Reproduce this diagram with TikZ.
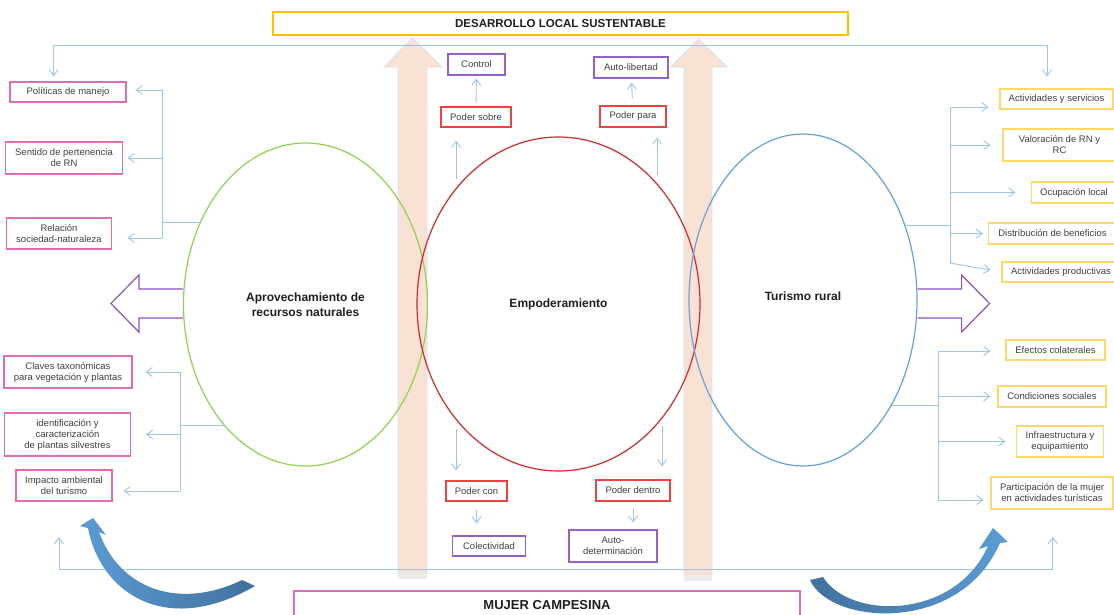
\documentclass[tikz,border=0pt]{standalone}
\usepackage{fontspec}
\setmainfont{Liberation Sans}
\usetikzlibrary{shapes.geometric, arrows.meta}
\definecolor{pinkline}{RGB}{224,108,184}
\definecolor{goldline}{RGB}{255,217,102}
\definecolor{topgold}{RGB}{255,192,0}
\definecolor{redline}{RGB}{240,64,64}
\definecolor{boxviolet}{RGB}{150,96,200}
\definecolor{connblue}{RGB}{157,195,230}
\definecolor{leafgreen}{RGB}{146,208,80}
\definecolor{empred}{RGB}{210,40,45}
\definecolor{turblue}{RGB}{100,160,220}
\definecolor{arrowviolet}{RGB}{140,80,190}
\definecolor{peach}{RGB}{249,226,212}
\definecolor{peachline}{RGB}{214,224,236}
\definecolor{curvedark}{RGB}{65,113,156}
\definecolor{curvelight}{RGB}{91,155,213}
\definecolor{txt}{RGB}{64,64,64}
\definecolor{titletxt}{RGB}{30,30,30}
\tikzstyle{pinkbox} = [rectangle, draw=pinkline, line width=1.2pt, align=center, text=txt, font=\fontsize{9.5}{11}\selectfont, inner sep=0pt]
\tikzstyle{goldbox} = [rectangle, draw=goldline, line width=1.2pt, align=center, text=txt, font=\fontsize{9.5}{11}\selectfont, inner sep=0pt]
\tikzstyle{redbox} = [rectangle, draw=redline, line width=1.2pt, align=center, text=txt, font=\fontsize{9.5}{11}\selectfont, inner sep=0pt]
\tikzstyle{violetbox} = [rectangle, draw=boxviolet, line width=1.2pt, align=center, text=txt, font=\fontsize{9.5}{11}\selectfont, inner sep=0pt]
\tikzstyle{titlebox} = [rectangle, line width=1.2pt, text=titletxt, inner sep=0pt]
\tikzstyle{bigellipse} = [ellipse, line width=1.2pt, align=center, text=titletxt, font=\bfseries\fontsize{12}{14.5}\selectfont, inner sep=0pt]
\tikzstyle{conn} = [draw=connblue, line width=0.9pt]
\tikzstyle{arrow} = [conn, ->, >={Straight Barb[length=6pt,width=9pt]}]
\tikzstyle{bigarrow} = [fill=peach, draw=peachline, line width=0.8pt]
\tikzstyle{fatarrow} = [draw=arrowviolet, line width=1.2pt, line join=miter]

\begin{document}
\begin{tikzpicture}[x=1pt, y=-1pt]
\useasboundingbox (0,0) rectangle (1114,614);

% the two wide arrows going up to the top box
\draw [bigarrow] (398,573) -- (398,67) -- (384,67) -- (412.5,38) -- (442,67) -- (427,67) -- (427,573) -- cycle;
\fill [gray!15] (398,573) rectangle (427,579);
\draw [bigarrow] (684,575) -- (684,67) -- (670.8,67) -- (698.6,39) -- (727,67) -- (712,67) -- (712,575) -- cycle;
\fill [gray!15] (684,575) rectangle (712,581);

\node (desarrollo) [titlebox, draw=topgold, minimum width=575pt, minimum height=23pt, font=\bfseries\fontsize{11.5}{13}\selectfont] at (560.5,23.5) {DESARROLLO LOCAL SUSTENTABLE};
\node (mujer) [titlebox, draw=pinkline, minimum width=506pt, minimum height=28pt, font=\bfseries\fontsize{13}{15}\selectfont] at (547,605) {MUJER CAMPESINA};

\node (aprov) [bigellipse, draw=leafgreen, minimum width=244pt, minimum height=323pt] at (305.5,304.5) {Aprovechamiento de\\recursos naturales};
\node (emp) [bigellipse, draw=empred, minimum width=283pt, minimum height=334pt] at (558.5,304) {Empoderamiento};
\node (tur) [bigellipse, draw=turblue, minimum width=228pt, minimum height=332pt] at (803,300) {\raisebox{7pt}{Turismo rural}};

% outline arrows on both sides
\draw [fatarrow] ([yshift=15.5pt]aprov.west) -- ++(-44,0) -- ++(0,-14) -- ++(-28,28.5) -- ++(28,28.5) -- ++(0,-14) -- ++(44,0);
\draw [fatarrow] ([yshift=11pt]tur.east) -- ++(44,0) -- ++(0,-14) -- ++(28,28.5) -- ++(-28,28.5) -- ++(0,-14) -- ++(-44,0);

% left boxes
\node (pol) [pinkbox, minimum width=116pt, minimum height=20pt] at (68,92) {Políticas de manejo};
\node (sent) [pinkbox, minimum width=117pt, minimum height=32pt] at (64,158) {Sentido de pertenencia\\de RN};
\node (rel) [pinkbox, minimum width=105pt, minimum height=31pt] at (59,233.5) {Relación\\sociedad-naturaleza};
\node (claves) [pinkbox, minimum width=128pt, minimum height=32pt] at (68,372) {Claves taxonómicas\\para vegetación y plantas};
\node (ident) [pinkbox, minimum width=126pt, minimum height=43pt] at (67.5,434.5) {identificación y\\caracterización\\de plantas silvestres};
\node (impacto) [pinkbox, minimum width=96pt, minimum height=31pt] at (64,485.5) {Impacto ambiental\\del turismo};

% right boxes
\node (actserv) [goldbox, minimum width=113pt, minimum height=20pt] at (1056.5,99) {Actividades y servicios};
\node (valor) [goldbox, minimum width=113pt, minimum height=32pt] at (1059.5,145) {Valoración de RN y\\RC};
\node (ocup) [goldbox, minimum width=85pt, minimum height=21pt] at (1074,192.5) {Ocupación local};
\node (distrib) [goldbox, minimum width=128pt, minimum height=21pt] at (1052.5,233.5) {Distribución de beneficios};
\node (actprod) [goldbox, minimum width=118pt, minimum height=20pt] at (1061,272) {Actividades productivas};
\node (efectos) [goldbox, minimum width=99pt, minimum height=20pt] at (1055.5,350) {Efectos colaterales};
\node (condic) [goldbox, minimum width=108pt, minimum height=21pt] at (1052,396.5) {Condiciones sociales};
\node (infra) [goldbox, minimum width=87pt, minimum height=31pt] at (1060,441.5) {Infraestructura y\\equipamiento};
\node (partic) [goldbox, minimum width=122pt, minimum height=32pt] at (1052,493) {Participación de la mujer\\en actividades turísticas};

% kinds of power
\node (control) [violetbox, minimum width=57pt, minimum height=21pt] at (476.5,64.5) {Control};
\node (podsobre) [redbox, minimum width=70pt, minimum height=20pt] at (476,117) {Poder sobre};
\node (autolib) [violetbox, minimum width=74pt, minimum height=21pt] at (631,67.5) {Auto-libertad};
\node (podpara) [redbox, minimum width=66pt, minimum height=21pt] at (633,116.5) {Poder para};
\node (podcon) [redbox, minimum width=61pt, minimum height=20pt] at (476.5,491) {Poder con};
\node (colect) [violetbox, minimum width=73pt, minimum height=20pt] at (489,546) {Colectividad};
\node (poddentro) [redbox, minimum width=74pt, minimum height=21pt] at (633,490.5) {Poder dentro};
\node (autodet) [violetbox, minimum width=88pt, minimum height=32pt] at (613,546) {Auto-\\determinación};

\coordinate (topL) at (53.6,45);
\coordinate (topR) at (1047,45);
\coordinate (botL) at (59,569);
\coordinate (botR) at (1052.6,569);
\coordinate (lu) at (162,90);
\coordinate (lub) at (162,238);
\coordinate (ll) at (180,372);
\coordinate (llb) at (180,491);
\coordinate (ru) at (950,107);
\coordinate (rub) at (950,263);
\coordinate (rl) at (938,351);
\coordinate (rlb) at (938,500);
\coordinate (es1) at (456,179);
\coordinate (es2) at (657,175);
\coordinate (es3) at (456,429);
\coordinate (es4) at (662,426);

\draw [arrow, <->, shorten <=5pt, shorten >=12pt] (pol.north -| topL) -- (topL) -- (topR) -- (actserv.north -| topR);
\draw [arrow, <->] ([yshift=32pt]botL) -- (botL) -- (botR) -- ([yshift=32pt]botR);

% left brackets
\draw [conn] (aprov.142) -- (aprov.142 -| lu);
\draw [conn] (lu) -- (lub);
\draw [arrow, shorten >=9pt] (lu) -- (lu -| pol.east);
\draw [arrow, shorten >=4.5pt] (lu |- sent.east) -- (sent.east);
\draw [arrow, shorten >=15.6pt] (lub) -- (lub -| rel.east);
\draw [conn] (aprov.236) -- (aprov.236 -| ll);
\draw [conn] (ll) -- (llb);
\draw [arrow, shorten >=13pt] (ll) -- (ll -| claves.east);
\draw [arrow, shorten >=15pt] (ll |- ident.east) -- (ident.east);
\draw [arrow, shorten >=11pt] (llb) -- (llb -| impacto.east);

% right brackets
\draw [conn] (tur.36) -- (tur.36 -| ru);
\draw [conn] (ru) -- (rub);
\draw [arrow, shorten >=11pt] (ru) -- (ru -| actserv.west);
\draw [arrow, shorten >=12pt] (ru |- valor.west) -- (valor.west);
\draw [arrow, shorten >=15.5pt] (ru |- ocup.west) -- (ocup.west);
\draw [arrow, shorten >=5pt] (ru |- distrib.west) -- (distrib.west);
\draw [arrow, shorten >=11pt] (rub) -- (actprod.west);
\draw [conn] (tur.310) -- (tur.310 -| rl);
\draw [conn] (rl) -- (rlb);
\draw [arrow, shorten >=15pt] (rl) -- (rl -| efectos.west);
\draw [arrow, shorten >=7pt] (rl |- condic.west) -- (condic.west);
\draw [arrow, shorten >=10.5pt] (rl |- infra.west) -- (infra.west);
\draw [arrow, shorten >=7pt] (rlb) -- (rlb -| partic.west);

% around Empoderamiento
\draw [arrow, shorten <=4pt, shorten >=3pt] (podsobre) -- (control);
\draw [arrow, shorten >=13pt] (es1) -- (es1 |- podsobre.south);
\draw [arrow, shorten <=7pt, shorten >=4pt] (podpara) -- (autolib);
\draw [arrow, shorten >=10pt] (es2) -- (es2 |- podpara.south);
\draw [arrow, shorten >=10pt] (es3) -- (es3 |- podcon.north);
\draw [arrow, shorten <=8pt, shorten >=12pt] (podcon.south) -- (podcon.south |- colect.north);
\draw [arrow, shorten >=13pt] (es4) -- (es4 |- poddentro.north);
\draw [arrow, shorten <=7pt, shorten >=7pt] (poddentro.south) -- (poddentro.south |- autodet.north);

% curved arrows at the bottom
\path [left color=curvelight, right color=curvedark] (88,528) .. controls (100,592) and (165,638) .. (255,586) -- (242,580) .. controls (180,610) and (120,590) .. (99,532) -- (106,535) -- (93,518) -- (80,526) -- cycle;
\path [left color=curvedark, right color=curvelight] (810,580) .. controls (830,625) and (960,635) .. (1000,543) -- (1008,542) -- (993,528) -- (979,549) -- (988,546) .. controls (955,620) and (850,620) .. (823,577) -- cycle;
\end{tikzpicture}
\end{document}
